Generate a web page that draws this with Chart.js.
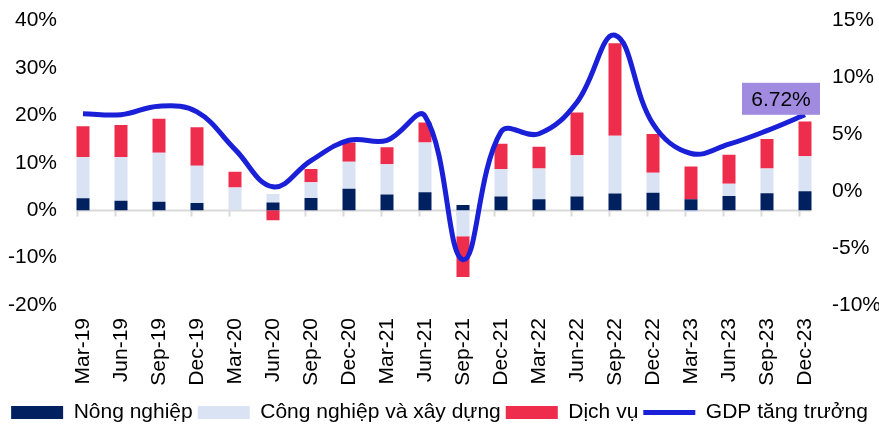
<!DOCTYPE html>
<html>
<head>
<meta charset="utf-8">
<script src="https://cdn.jsdelivr.net/npm/chart.js@4"></script>
<style>
  html, body { margin: 0; padding: 0; background: #fff; }
  #wrap { width: 879px; height: 425px; }
</style>
</head>
<body>
<div id="wrap"><canvas id="gdpChart"></canvas></div>
<script>
// Quarters
const quarters = ['Mar-19', 'Jun-19', 'Sep-19', 'Dec-19', 'Mar-20', 'Jun-20', 'Sep-20', 'Dec-20',
    'Mar-21', 'Jun-21', 'Sep-21', 'Dec-21', 'Mar-22', 'Jun-22', 'Sep-22', 'Dec-22',
    'Mar-23', 'Jun-23', 'Sep-23', 'Dec-23'];

// Contributions by sector (left axis, %)
const nongNghiep = [2.5, 2.0, 1.8, 1.5, 0, 1.6, 2.6, 4.5, 3.3, 3.8, 1.1, 2.9, 2.3, 2.9, 3.5, 3.7, 2.3, 3.0, 3.6, 4.0];
const congNghiep = [8.7, 9.2, 10.3, 7.9, 4.8, 1.8, 3.3, 5.7, 6.4, 10.5, -5.5, 5.8, 6.5, 8.7, 12.2, 4.2, -0.4, 2.6, 5.2, 7.4];
const dichVu = [6.5, 6.8, 7.2, 8.1, 3.3, -2.1, 2.8, 4.1, 3.6, 4.2, -8.6, 5.3, 4.6, 9.0, 19.5, 8.2, 6.9, 6.1, 6.2, 7.3];

// GDP growth (right axis, %)
const gdpGrowth = [6.82, 6.73, 7.48, 6.97, 3.68, 0.39, 2.69, 4.48, 4.48, 6.61, -6.02, 5.22, 5.05, 7.83, 13.71, 5.92, 3.32, 4.14, 5.33, 6.72];

// Axis ranges
const leftTicks = { min: -20, max: 40, step: 10 };
const rightTicks = { min: -10, max: 15, step: 5 };

const FONT = "'Liberation Sans', Arial, sans-serif";
const FS = 21;
const BAR_W = 13;
const PLOT_BOTTOM = 305;
const PAD_BOTTOM = -8;

// zero line with small tick marks at each bar's left edge
const zeroAxis = {
    id: 'zeroAxis',
    beforeDatasetsDraw(chart) {
        const x = chart.scales.x, y = chart.scales.y, ctx = chart.ctx;
        const y0 = Math.round(y.getPixelForValue(0)) + 0.5;
        const x1 = x.getPixelForValue(0) - BAR_W / 2;
        const x2 = x.getPixelForValue(quarters.length - 1) + BAR_W / 2;
        ctx.save();
        ctx.strokeStyle = '#d9d9d9';
        ctx.lineWidth = 2;
        ctx.beginPath();
        ctx.moveTo(x1, y0);
        ctx.lineTo(x2, y0);
        for (let i = 0; i < quarters.length; i++) {
            const tx = Math.round(x.getPixelForValue(i) - BAR_W / 2) + 0.5;
            ctx.moveTo(tx, y0);
            ctx.lineTo(tx, y0 + 6);
        }
        ctx.stroke();
        ctx.restore();
    }
};

// label box for last GDP value
const lastLabel = {
    id: 'lastLabel',
    afterDatasetsDraw(chart) {
        const ctx = chart.ctx;
        const i = gdpGrowth.length - 1;
        const px = chart.scales.x.getPixelForValue(i);
        const py = chart.scales.y1.getPixelForValue(gdpGrowth[i]);
        const w = 78, h = 32;
        const bx = px + 15 - w, by = py - h;
        ctx.save();
        ctx.fillStyle = '#a18be0';
        ctx.fillRect(bx, by, w, h);
        ctx.fillStyle = '#000';
        ctx.font = FS + 'px ' + FONT;
        ctx.textAlign = 'center';
        ctx.textBaseline = 'middle';
        ctx.fillText(gdpGrowth[i].toFixed(2) + '%', bx + w / 2, by + h / 2 + 1);
        ctx.restore();
    }
};

const ctx = document.getElementById('gdpChart').getContext('2d');
const chart = new Chart(ctx, {
    type: 'bar',
    data: {
        labels: quarters,
        datasets: [
            { label: 'Nông nghiệp', data: nongNghiep, backgroundColor: '#002060', yAxisID: 'y', stack: 's' },
            { label: 'Công nghiệp và xây dựng', data: congNghiep, backgroundColor: '#dae3f3', yAxisID: 'y', stack: 's' },
            { label: 'Dịch vụ', data: dichVu, backgroundColor: '#ee2d4c', yAxisID: 'y', stack: 's' },
            {
                type: 'line', label: 'GDP tăng trưởng', data: gdpGrowth, yAxisID: 'y1',
                borderColor: '#1a1fd8', backgroundColor: '#1a1fd8', borderWidth: 5,
                pointRadius: 0, tension: 0.4, order: -1
            }
        ]
    },
    options: {
        responsive: true,
        maintainAspectRatio: false,
        animation: false,
        layout: { padding: { top: 10, bottom: PAD_BOTTOM } },
        datasets: {
            bar: { barPercentage: BAR_W / 38, categoryPercentage: 1 }
        },
        scales: {
            x: {
                stacked: true,
                grid: { display: false, drawTicks: false },
                border: { display: false },
                ticks: {
                    color: '#000', font: { family: FONT, size: FS },
                    minRotation: 90, maxRotation: 90, padding: 13, autoSkip: false
                },
                afterFit: s => {
                    const lg = s.chart.legend ? s.chart.legend.height : 0;
                    s.height = s.chart.height - PAD_BOTTOM - PLOT_BOTTOM - lg;
                }
            },
            y: {
                stacked: true,
                position: 'left',
                min: leftTicks.min, max: leftTicks.max,
                grid: { display: false, drawTicks: false },
                border: { display: false },
                ticks: {
                    stepSize: leftTicks.step, color: '#000', padding: 7,
                    font: { family: FONT, size: FS },
                    callback: v => v + '%'
                },
                afterFit: s => { s.width = 64; }
            },
            y1: {
                position: 'right',
                min: rightTicks.min, max: rightTicks.max,
                grid: { display: false, drawTicks: false },
                border: { display: false },
                ticks: {
                    stepSize: rightTicks.step, color: '#000', padding: 8,
                    font: { family: FONT, size: FS },
                    callback: v => v + '%'
                },
                afterFit: s => { s.width = 55; }
            }
        },
        plugins: {
            legend: {
                position: 'bottom',
                labels: {
                    color: '#000',
                    font: { family: FONT, size: FS },
                    usePointStyle: true,
                    pointStyleWidth: 52,
                    boxHeight: 13,
                    padding: 5,
                    sort: (a, b) => a.datasetIndex - b.datasetIndex,
                    generateLabels(chart) {
                        const items = Chart.defaults.plugins.legend.labels.generateLabels(chart);
                        items.forEach(it => {
                            const ds = chart.data.datasets[it.datasetIndex];
                            if (ds.type === 'line') {
                                it.pointStyle = 'line';
                                it.lineWidth = 5;
                                it.strokeStyle = ds.borderColor;
                            } else {
                                it.pointStyle = 'rect';
                                it.lineWidth = 0;
                            }
                        });
                        return items;
                    }
                }
            },
            tooltip: { enabled: false }
        }
    },
    plugins: [zeroAxis, lastLabel]
});
</script>
</body>
</html>
